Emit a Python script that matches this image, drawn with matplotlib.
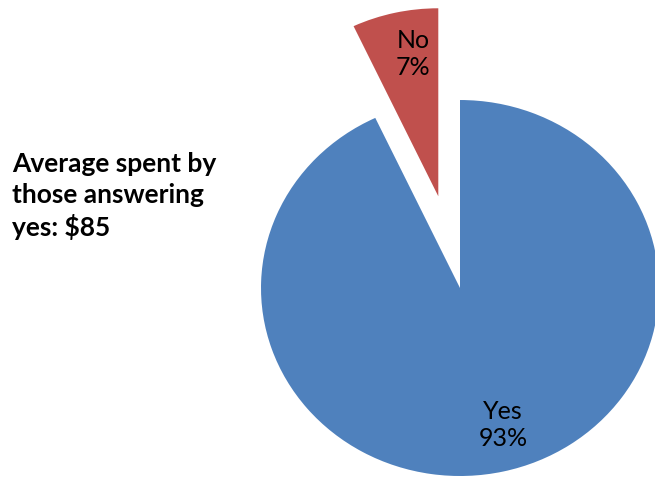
import matplotlib
matplotlib.use("Agg")
import matplotlib.pyplot as plt
import numpy as np

# survey answers
answers = ["Yes", "No"]
shares = [93, 7]
colors = ["#4F81BD", "#C0504D"]
note = "Average spent by\nthose answering\nyes: $85"

plt.rcParams['font.family'] = ['Lato', 'DejaVu Sans']

fig = plt.figure(figsize=(6.55, 4.78), dpi=100)
ax = fig.add_axes([0, 0, 1, 1])
ax.set_axis_off()

wedges, _ = ax.pie(shares, colors=colors, startangle=90, counterclock=False,
                   explode=[0, 0.5], radius=1.0, frame=True,
                   wedgeprops=dict(linewidth=0))
ax.set_aspect('auto')
ax.set_axis_off()
# stretched a little horizontally, center placed right of middle
ax.set_xlim(-2.3116, 0.9799)
ax.set_ylim(-1.0106, 1.532)

# data labels, offset from each wedge's center point
offsets = [(0.216, -0.73), (-0.125, 0.755)]
for w, name, val, (ox, oy) in zip(wedges, answers, shares, offsets):
    cx, cy = w.center
    ax.text(cx + ox, cy + oy, f"{name}\n{val}%", ha='center', va='center',
            fontsize=18, linespacing=1.2, color='black')

fig.text(12 / 655, 1 - 196 / 478, note, ha='left', va='center',
         fontsize=19, fontweight='bold', linespacing=1.33)

fig.savefig("out.png", dpi=100)
